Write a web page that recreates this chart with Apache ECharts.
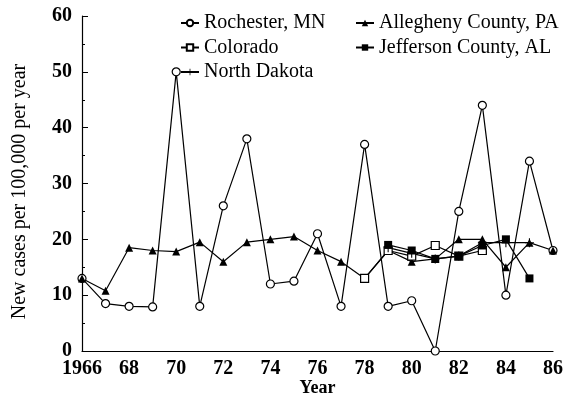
<!DOCTYPE html>
<html>
<head>
<meta charset="utf-8">
<script src="https://cdn.jsdelivr.net/npm/echarts@6/dist/echarts.min.js"></script>
<style>
  html, body { margin: 0; padding: 0; background: #fff; }
  #chart { width: 573px; height: 399px; }
</style>
</head>
<body>
<div id="chart"></div>
<script>
// Incidence per 100,000 per year, by registry
const years = [1966, 1967, 1968, 1969, 1970, 1971, 1972, 1973, 1974, 1975, 1976,
               1977, 1978, 1979, 1980, 1981, 1982, 1983, 1984, 1985, 1986];
const rochester = [13, 8.5, 8, 7.9, 50, 8, 26, 38, 12, 12.5, 21,
                   8, 37, 8, 9, 0, 25, 44, 10, 34, 18];
const allegheny = [13, 10.8, 18.5, 18, 17.8, 19.5, 16, 19.5, 20, 20.5, 18,
                   16, 13, 18, 16, 16.5, 20, 20, 15, 19.4, 18];
const coloradoYears = [1978, 1979, 1980, 1981, 1982, 1983];
const colorado = [13, 18, 17, 18.9, 17, 18];
const jeffersonYears = [1979, 1980, 1981, 1982, 1983, 1984, 1985];
const jefferson = [19, 18, 16.5, 17, 18.9, 20, 13];
const dakotaYears = [1979, 1980, 1981, 1982, 1983, 1984, 1985];
const dakota = [18.5, 17.5, 16.5, 17, 19.4, 19.4, 19.4];

const pairs = (xs, ys) => xs.map((x, i) => [x, ys[i]]);

const serif = 'Liberation Serif';
const plusPath = 'path://M0,4.4H10V5.6H0Z M4.4,0H5.6V10H4.4Z';

function series(name, data, symbol, size, filled) {
  return {
    name: name,
    type: 'line',
    data: data,
    symbol: symbol,
    symbolSize: size,
    showAllSymbol: true,
    clip: false,
    lineStyle: { color: '#000', width: 1.2 },
    itemStyle: {
      color: filled ? '#000' : '#fff',
      borderColor: '#000',
      borderWidth: filled ? 0 : 1.2
    },
    emphasis: { disabled: true },
    animation: false
  };
}

const legendText = { fontFamily: serif, fontSize: 20, color: '#000', lineHeight: 20 };

const chart = echarts.init(document.getElementById('chart'));
chart.setOption({
  backgroundColor: '#fff',
  animation: false,
  grid: { left: 82, right: 20, top: 16, bottom: 48, outerBoundsMode: 'none', containLabel: false },
  legend: [
    {
      data: ['Rochester, MN', 'Colorado', 'North Dakota'],
      orient: 'vertical', left: 180, top: 13,
      itemWidth: 18, itemHeight: 8, itemGap: 4.5,
      textStyle: legendText, padding: 0
    },
    {
      data: ['Allegheny County, PA', 'Jefferson County, AL'],
      orient: 'vertical', left: 355, top: 13,
      itemWidth: 18, itemHeight: 8, itemGap: 4.5,
      textStyle: legendText, padding: 0
    }
  ],
  xAxis: {
    type: 'value',
    min: 1966, max: 1986, interval: 2,
    name: 'Year', nameLocation: 'middle', nameGap: 28, nameMoveOverlap: false,
    nameTextStyle: { fontFamily: serif, fontSize: 18, fontWeight: 'bold', color: '#000' },
    axisLine: { lineStyle: { color: '#000', width: 1.2 } },
    axisTick: { show: false },
    splitLine: { show: false },
    axisLabel: {
      fontFamily: serif, fontSize: 20, fontWeight: 'bold', color: '#000', margin: 8,
      formatter: v => (v === 1966 ? '1966' : String(v).slice(2))
    }
  },
  yAxis: {
    type: 'value',
    min: 0, max: 60, interval: 10,
    name: 'New cases per 100,000 per year', nameLocation: 'middle', nameGap: 52, nameMoveOverlap: false,
    nameTextStyle: { fontFamily: serif, fontSize: 20, color: '#000', padding: [0, 16, 0, 0] },
    axisLine: { show: true, lineStyle: { color: '#000', width: 1.2 } },
    axisTick: { show: true, inside: true, length: 6, lineStyle: { color: '#000' } },
    minorTick: { show: true, splitNumber: 2, length: 3, lineStyle: { color: '#000' } },
    splitLine: { show: false },
    axisLabel: { fontFamily: serif, fontSize: 20, fontWeight: 'bold', color: '#000', margin: 10 }
  },
  series: [
    series('Rochester, MN', pairs(years, rochester), 'circle', 8, false),
    series('Allegheny County, PA', pairs(years, allegheny), 'triangle', 8, true),
    series('Colorado', pairs(coloradoYears, colorado), 'rect', 8, false),
    series('Jefferson County, AL', pairs(jeffersonYears, jefferson), 'rect', 8, true),
    series('North Dakota', pairs(dakotaYears, dakota), plusPath, 9, true)
  ]
});
</script>
</body>
</html>
